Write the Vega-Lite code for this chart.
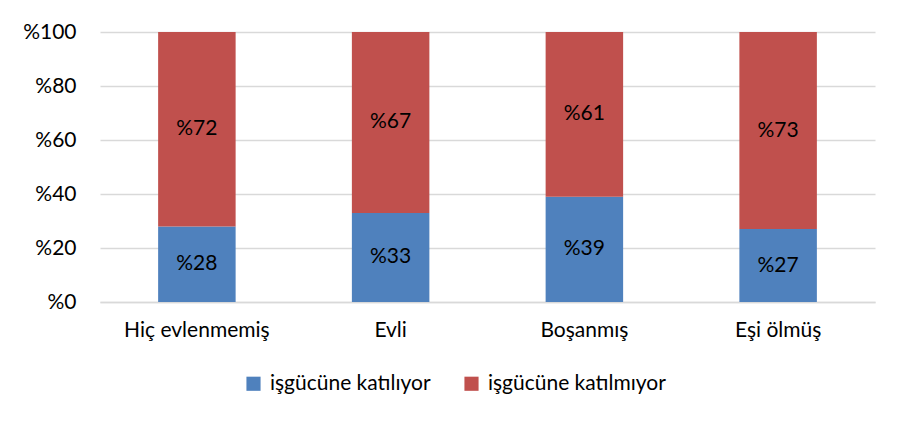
{
  "$schema": "https://vega.github.io/schema/vega-lite/v6.json",
  "width": 775,
  "height": 270,
  "autosize": {"type": "none"},
  "padding": {"left": 100, "top": 32, "right": 23, "bottom": 121},
  "background": "white",
  "config": {
    "font": "Lato",
    "view": {"stroke": null},
    "axis": {"labelFont": "Lato", "labelFontSize": 21, "labelColor": "#000000"},
    "legend": {"labelFont": "Lato", "labelFontSize": 21, "labelColor": "#000000", "padding": 0, "labelLimit": 400}
  },
  "data": {
    "values": [
      {"cat": "Hiç evlenmemiş", "group": "işgücüne katılıyor", "ord": 1, "value": 28},
      {"cat": "Hiç evlenmemiş", "group": "işgücüne katılmıyor", "ord": 2, "value": 72},
      {"cat": "Evli", "group": "işgücüne katılıyor", "ord": 1, "value": 33},
      {"cat": "Evli", "group": "işgücüne katılmıyor", "ord": 2, "value": 67},
      {"cat": "Boşanmış", "group": "işgücüne katılıyor", "ord": 1, "value": 39},
      {"cat": "Boşanmış", "group": "işgücüne katılmıyor", "ord": 2, "value": 61},
      {"cat": "Eşi ölmüş", "group": "işgücüne katılıyor", "ord": 1, "value": 27},
      {"cat": "Eşi ölmüş", "group": "işgücüne katılmıyor", "ord": 2, "value": 73}
    ]
  },
  "transform": [
    {"stack": "value", "groupby": ["cat"], "sort": [{"field": "ord"}], "as": ["v0", "v1"]},
    {"calculate": "(datum.v0 + datum.v1) / 2", "as": "mid"},
    {"calculate": "'%' + datum.value", "as": "label"}
  ],
  "encoding": {
    "x": {
      "field": "cat", "type": "nominal",
      "sort": ["Hiç evlenmemiş", "Evli", "Boşanmış", "Eşi ölmüş"],
      "scale": {"paddingInner": 0.6, "paddingOuter": 0.3},
      "axis": {"title": null, "labelAngle": 0, "ticks": false, "domain": true, "domainColor": "#D9D9D9", "domainWidth": 1.5, "labelPadding": 17}
    }
  },
  "layer": [
    {
      "mark": {"type": "bar"},
      "encoding": {
        "y": {
          "field": "v0", "type": "quantitative",
          "scale": {"domain": [0, 100]},
          "axis": {
            "title": null, "values": [0, 20, 40, 60, 80, 100],
            "labelExpr": "'%' + datum.value",
            "ticks": false, "domain": false, "labelPadding": 24,
            "grid": true, "gridColor": "#D9D9D9", "gridWidth": 1.5
          }
        },
        "y2": {"field": "v1"},
        "color": {
          "field": "group", "type": "nominal",
          "scale": {"domain": ["işgücüne katılıyor", "işgücüne katılmıyor"], "range": ["#4F81BD", "#C0504D"]},
          "legend": {
            "title": null, "orient": "none", "direction": "horizontal",
            "legendX": 143, "legendY": 341,
            "symbolType": "square", "symbolSize": 200, "symbolStrokeWidth": 0,
            "columnPadding": 30, "labelOffset": 6
          }
        }
      }
    },
    {
      "mark": {"type": "text", "fontSize": 21, "color": "#000000", "font": "Lato"},
      "encoding": {
        "y": {"field": "mid", "type": "quantitative"},
        "text": {"field": "label", "type": "nominal"},
        "detail": {"field": "group"}
      }
    }
  ]
}
